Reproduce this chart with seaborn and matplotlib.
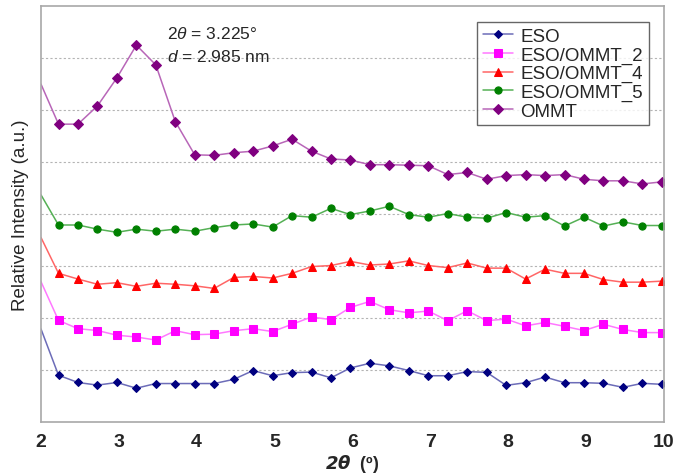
import matplotlib
matplotlib.use("Agg")
import matplotlib.pyplot as plt
import seaborn as sns
import numpy as np
import pandas as pd

# 2theta positions: curve starts at 2.0, markers every 0.25 from 2.225
two_theta = [2.0] + [2.225 + 0.25 * k for k in range(32)]

eso = [1.79,
       0.90, 0.76, 0.71, 0.76, 0.65, 0.74, 0.74, 0.74, 0.74, 0.82, 0.99, 0.89,
       0.95, 0.96, 0.85, 1.04, 1.13, 1.08, 0.99, 0.89, 0.89, 0.97, 0.955, 0.705,
       0.756, 0.865, 0.756, 0.756, 0.744, 0.667, 0.744, 0.725]
eso_ommt_2 = [2.70,
              1.955, 1.795, 1.76, 1.67, 1.635, 1.577, 1.756, 1.68, 1.69, 1.756, 1.795, 1.74,
              1.88, 2.02, 1.97, 2.205, 2.32, 2.16, 2.10, 2.135, 1.95, 2.14, 1.95, 1.98,
              1.85, 1.915, 1.84, 1.76, 1.88, 1.78, 1.72, 1.72]
eso_ommt_4 = [3.55,
              2.86, 2.75, 2.65, 2.68, 2.61, 2.67, 2.65, 2.62, 2.57, 2.78, 2.80, 2.77,
              2.86, 2.99, 3.01, 3.09, 3.02, 3.04, 3.10, 3.01, 2.97, 3.06, 2.96, 2.96,
              2.75, 2.94, 2.86, 2.86, 2.74, 2.69, 2.69, 2.71]
eso_ommt_5 = [4.37,
              3.79, 3.79, 3.71, 3.65, 3.71, 3.67, 3.71, 3.67, 3.74, 3.79, 3.81, 3.75,
              3.97, 3.94, 4.11, 3.99, 4.06, 4.15, 3.99, 3.94, 4.01, 3.94, 3.92, 4.03,
              3.94, 3.97, 3.77, 3.94, 3.77, 3.85, 3.78, 3.78]
ommt = [6.50,
        5.73, 5.73, 6.08, 6.62, 7.25, 6.87, 5.78, 5.14, 5.13, 5.18, 5.21, 5.31,
        5.44, 5.21, 5.06, 5.04, 4.95, 4.95, 4.94, 4.93, 4.76, 4.80, 4.67, 4.74,
        4.76, 4.74, 4.76, 4.67, 4.64, 4.64, 4.58, 4.62]

labels = ["ESO", "ESO/OMMT_2", "ESO/OMMT_4", "ESO/OMMT_5", "OMMT"]
series = [eso, eso_ommt_2, eso_ommt_4, eso_ommt_5, ommt]
marker_colors = ["#000080", "#ff00ff", "#ff0000", "#008000", "#800080"]
line_colors = ["#6c6cb8", "#ff78ff", "#ff6666", "#55b055", "#b866b8"]
markers = ["D", "s", "^", "o", "D"]
msizes = [4.2, 5.2, 6, 5.2, 4.6]

sns.set_theme(style="white")
plt.rcParams["font.family"] = ["Liberation Sans", "DejaVu Sans"]
plt.rcParams["mathtext.fontset"] = "custom"
plt.rcParams["mathtext.it"] = "Liberation Sans:italic"
plt.rcParams["mathtext.bf"] = "Liberation Sans:bold"
plt.rcParams["mathtext.rm"] = "Liberation Sans"

fig, ax = plt.subplots(figsize=(6.9, 4.77), dpi=100)
fig.subplots_adjust(left=0.0594, right=0.962, bottom=0.1132, top=0.985)

n = len(two_theta)
for lab, vals, mc, lc, mk, ms in zip(labels, series, marker_colors, line_colors, markers, msizes):
    df = pd.DataFrame({"x": two_theta, "y": vals})
    sns.lineplot(data=df, x="x", y="y", ax=ax, color=lc, linewidth=1.1,
                 marker=mk, markersize=ms, markerfacecolor=mc, markeredgecolor=mc,
                 markevery=list(range(1, n)), label=lab)

ax.set_xlim(2, 10)
ax.set_ylim(0, 8)
ax.set_xticks(range(2, 11))
ax.set_yticks(range(1, 8))
ax.set_yticklabels([])
ax.tick_params(axis="y", length=0)
ax.tick_params(axis="x", direction="out", length=4, width=1, color="#a0a0a0",
               labelsize=14, pad=4)
for t in ax.get_xticklabels():
    t.set_fontweight("bold")
ax.yaxis.grid(True, linestyle=(0, (2, 2)), color="#b4b4b4", linewidth=0.8)
ax.xaxis.grid(False)
for sp in ax.spines.values():
    sp.set_color("#a8a8a8")
    sp.set_linewidth(1.2)

ax.set_xlabel(r"$\mathbfit{2\theta}$  (º)", fontsize=13, fontweight="bold", labelpad=1)
ax.set_ylabel("Relative Intensity (a.u.)", fontsize=13.5, labelpad=5)

ax.text(3.62, 7.48, r"2$\it{\theta}$ = 3.225°", fontsize=12.5, ha="left", va="center")
ax.text(3.62, 7.04, r"$\it{d}$ = 2.985 nm", fontsize=12.5, ha="left", va="center")

leg = ax.legend(loc="upper right", bbox_to_anchor=(0.976, 0.962), fontsize=13.5,
                frameon=True, fancybox=False, edgecolor="#404040", handlelength=1.6,
                labelspacing=0.08, borderpad=0.3, handletextpad=0.4, borderaxespad=0)
leg.get_frame().set_linewidth(1.0)

plt.savefig("out.png", dpi=100)
